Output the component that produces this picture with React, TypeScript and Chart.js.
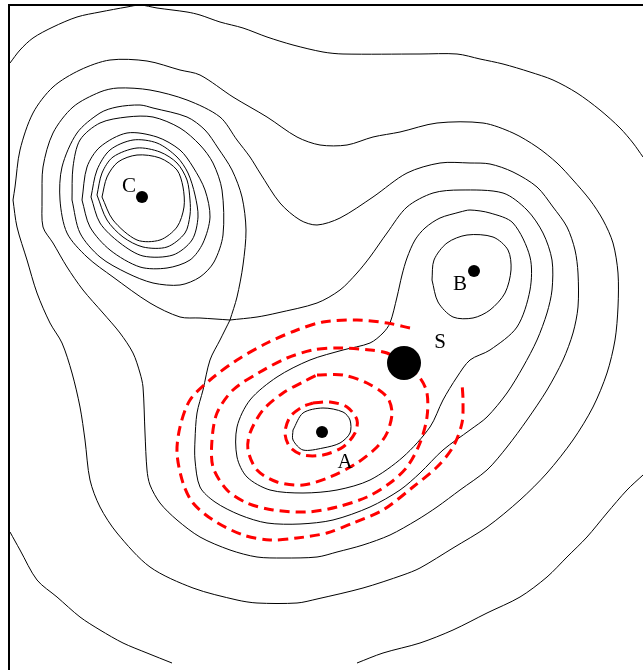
import React, { useEffect, useRef } from 'react';
import { Chart, registerables } from 'chart.js';

Chart.register(...registerables);

type Pt = [number, number];

// ---- black contour lines (x, y in plot units) ----
const contourT1Top: Pt[] = [[10,63],[20,50],[33,38],[53,27],[77,17],[100,12],[127,7],[140,5],[157,8],[187,12],[200,15],[220,22],[243,28],[267,37],[293,45],[323,52],[343,54],[420,54],[457,54],[480,59],[503,64],[530,72],[553,80],[577,93],[600,110],[620,128],[633,143],[643,157]];
const contourT1BottomLeft: Pt[] = [[10,532],[20,550],[37,580],[57,597],[80,617],[100,630],[123,643],[147,653],[172,663]];
const contourT1BottomRight: Pt[] = [[357,663],[383,653],[420,643],[453,630],[487,613],[520,597],[547,577],[567,557],[587,537],[607,513],[627,490],[643,475]];
const contourT2: Pt[] = [[13,200],[15,187],[20,150],[33,113],[53,87],[80,70],[110,60],[147,61],[180,70],[200,75],[233,97],[267,117],[297,137],[320,145],[347,145],[373,137],[400,132],[437,123],[483,123],[513,133],[537,147],[557,163],[573,180],[590,200],[603,220],[613,243],[618,273],[618,307],[615,340],[607,373],[593,407],[573,440],[547,473],[520,500],[487,527],[453,548],[420,568],[403,575],[363,588],[317,599],[297,603],[257,603],[237,600],[193,588],[150,567],[117,533],[100,507],[90,480],[85,440],[80,407],[72,373],[62,343],[50,323],[37,293],[27,260],[17,227],[13,200]];
const contourT3: Pt[] = [[42,200],[43,167],[53,133],[73,107],[100,92],[118,88],[150,90],[187,100],[220,117],[237,140],[250,157],[260,173],[280,203],[300,220],[317,225],[340,218],[373,197],[407,173],[440,163],[470,163],[490,164],[513,172],[537,187],[553,207],[567,227],[575,250],[578,273],[578,307],[573,333],[563,360],[547,390],[527,420],[507,447],[487,470],[460,490],[437,507],[417,520],[390,535],[363,545],[337,552],[317,557],[283,558],[257,557],[230,550],[200,537],[177,520],[160,503],[150,485],[147,470],[145,433],[143,387],[140,373],[133,353],[120,333],[103,313],[83,290],[67,267],[53,243],[43,227],[42,200]];
const contourT4C: Pt[] = [[230,320],[200,318],[180,317],[150,303],[113,277],[87,257],[67,233],[60,200],[62,167],[77,133],[100,113],[117,107],[140,105],[153,108],[187,117],[205,130],[218,148],[232,170],[242,197],[246,230],[243,265],[237,297],[230,320]];
const contourT4AB: Pt[] = [[230,320],[257,317],[277,313],[317,303],[340,290],[357,273],[370,257],[387,233],[407,207],[433,193],[460,190],[503,193],[527,210],[543,233],[552,260],[552,290],[547,313],[537,340],[523,367],[507,393],[487,417],[470,430],[443,450],[420,473],[400,490],[370,507],[333,520],[300,524],[267,523],[240,515],[215,502],[200,487],[195,460],[195,440],[197,413],[203,390],[210,360],[220,340],[230,320]];
const contourC1: Pt[] = [[72,200],[73,167],[80,140],[100,123],[127,117],[153,117],[180,128],[200,145],[213,163],[222,190],[223,235],[214,262],[200,277],[180,285],[153,283],[127,273],[100,257],[80,233],[72,200]];
const contourC2: Pt[] = [[82,200],[87,167],[100,147],[127,133],[157,137],[180,150],[193,167],[205,190],[210,217],[203,243],[190,260],[167,268],[140,267],[110,250],[90,227],[82,200]];
const contourC3: Pt[] = [[91,197],[97,170],[110,150],[133,140],[157,143],[177,157],[188,173],[195,195],[198,217],[192,240],[173,255],[143,256],[120,243],[100,223],[91,197]];
const contourC4: Pt[] = [[97,195],[102,173],[113,157],[137,148],[160,152],[177,163],[187,180],[190,200],[190,215],[185,233],[167,247],[143,247],[123,237],[107,220],[97,195]];
const contourC5: Pt[] = [[102,197],[107,177],[118,162],[137,155],[160,158],[177,170],[183,187],[184,207],[177,227],[160,240],[137,240],[113,220],[102,197]];
const contourAB: Pt[] = [[460,212],[440,218],[425,228],[415,240],[407,258],[402,275],[397,297],[390,323],[383,333],[370,343],[343,350],[310,360],[277,377],[250,400],[237,427],[237,457],[247,477],[270,490],[303,493],[337,490],[370,480],[403,457],[430,427],[443,400],[457,377],[470,360],[490,350],[517,327],[530,290],[530,257],[513,223],[490,213],[470,210],[460,212]];
const contourB1: Pt[] = [[432,280],[434,260],[447,243],[467,235],[493,237],[508,250],[511,270],[505,293],[490,310],[473,318],[453,317],[438,302],[432,280]];
const contourA1: Pt[] = [[293,430],[303,413],[323,408],[343,412],[350,420],[350,433],[340,443],[323,448],[303,450],[293,440],[293,430]];

// ---- red dashed lines ----
const dashedR1: Pt[] = [[410,328],[387,323],[357,320],[323,322],[297,330],[267,343],[237,360],[210,380],[190,400],[180,427],[177,453],[183,483],[193,503],[213,520],[243,535],[270,540],[297,538],[327,533],[353,523],[383,510],[413,487],[437,467],[453,447],[462,423],[463,400],[462,383]];
const dashedR2: Pt[] = [[404,363],[387,353],[370,350],[337,348],[313,350],[287,358],[260,372],[233,390],[217,413],[212,440],[213,467],[227,490],[247,503],[273,510],[307,512],[337,507],[367,497],[390,483],[407,467],[420,443],[427,417],[427,393],[420,378],[404,363]];
const dashedR3: Pt[] = [[317,375],[343,375],[367,383],[387,397],[392,413],[387,433],[377,447],[357,463],[330,477],[303,485],[277,482],[257,470],[248,450],[250,433],[263,410],[283,393],[303,382],[317,375]];
const dashedR4: Pt[] = [[313,403],[330,402],[347,407],[357,420],[355,433],[343,447],[323,455],[303,455],[290,447],[285,433],[290,417],[302,407],[313,403]];

// ---- sites and labels ----
const siteNames = ['A', 'B', 'C', 'S'];
const siteX = [322, 474, 142, 404];
const siteY = [432, 271, 197, 363];
const labelX = [345, 460, 129, 440];
const labelY = [462, 284, 186, 342];

const blackContours: Pt[][] = [
  contourT1Top, contourT1BottomLeft, contourT1BottomRight, contourT2, contourT3,
  contourT4C, contourT4AB, contourC1, contourC2, contourC3, contourC4, contourC5,
  contourAB, contourB1, contourA1,
];
const redDashed: Pt[][] = [dashedR1, dashedR2, dashedR3, dashedR4];

const toXY = (pts: Pt[]) => pts.map(([x, y]) => ({ x, y }));

const overlayPlugin = {
  id: 'overlay',
  afterDatasetsDraw(chart: any) {
    const { ctx, chartArea, scales } = chart;
    ctx.save();
    ctx.strokeStyle = '#000';
    ctx.lineWidth = 2;
    ctx.beginPath();
    ctx.moveTo(chartArea.left, chart.height);
    ctx.lineTo(chartArea.left, chartArea.top);
    ctx.lineTo(chart.width, chartArea.top);
    ctx.stroke();
    ctx.fillStyle = '#000';
    ctx.font = '21px "Liberation Serif", "Times New Roman", serif';
    ctx.textAlign = 'center';
    ctx.textBaseline = 'middle';
    siteNames.forEach((n, i) => {
      ctx.fillText(n, scales.x.getPixelForValue(labelX[i]), scales.y.getPixelForValue(labelY[i]));
    });
    ctx.restore();
  },
};

export default function App() {
  const ref = useRef<HTMLCanvasElement | null>(null);
  useEffect(() => {
    if (!ref.current) return;
    const datasets: any[] = [];
    siteNames.forEach((n, i) => {
      datasets.push({
        label: 'site ' + n,
        data: [{ x: siteX[i], y: siteY[i] }],
        showLine: false,
        pointRadius: n === 'S' ? 17 : 6,
        pointBackgroundColor: '#000',
        pointBorderWidth: 0,
        clip: false,
      });
    });
    redDashed.forEach((p, i) => {
      datasets.push({
        label: 'dashed ' + i,
        data: toXY(p),
        showLine: true,
        pointRadius: 0,
        borderColor: '#ff0000',
        borderWidth: 3,
        borderDash: [10, 6],
        tension: 0.3,
      });
    });
    blackContours.forEach((p, i) => {
      datasets.push({
        label: 'contour ' + i,
        data: toXY(p),
        showLine: true,
        pointRadius: 0,
        borderColor: '#000',
        borderWidth: 1,
        tension: 0.3,
      });
    });
    const chart = new Chart(ref.current, {
      type: 'scatter',
      data: { datasets },
      options: {
        responsive: false,
        animation: false,
        events: [],
        layout: { autoPadding: false, padding: { left: 9, top: 5, right: 0, bottom: 0 } },
        scales: {
          x: { type: 'linear', min: 9, max: 643, display: false },
          y: { type: 'linear', min: 5, max: 670, reverse: true, display: false },
        },
        plugins: { legend: { display: false }, tooltip: { enabled: false } },
      },
      plugins: [overlayPlugin],
    });
    return () => chart.destroy();
  }, []);
  return (
    <div style={{ position: 'absolute', left: 0, top: 0, width: 643, height: 670, background: '#fff', overflow: 'hidden' }}>
      <canvas ref={ref} width={643} height={670} style={{ display: 'block' }} />
    </div>
  );
}
